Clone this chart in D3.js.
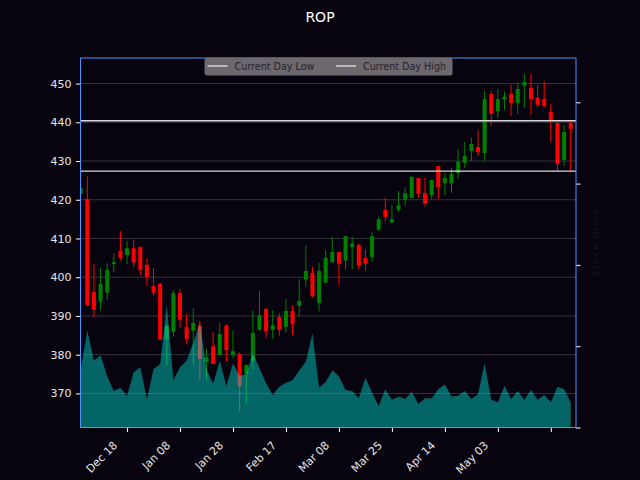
<html>
<script src='https://d3js.org/d3.v7.min.js'></script>
<style>
body { margin:0; background:#07040f; }
text { font-family: "DejaVu Sans", sans-serif; }
</style>
<body>
<svg width=640 height=480></svg>
<script>
// candles
var openP  = [421.5,420.2,396.2,393.7,396.0,403.4,406.8,405.7,407.5,407.8,403.2,397.7,398.3,383.9,385.9,395.9,387.1,386.2,387.5,378.1,
              382.2,379.9,387.5,379.9,380.2,375.1,378.4,386.4,391.8,386.4,389.7,387.2,391.3,392.6,399.4,401.1,393.4,398.6,403.9,406.5,
              404.3,407.8,408.3,405.0,405.2,412.3,417.4,414.1,417.4,420.0,420.5,425.6,421.7,421.2,428.7,424.3,424.2,426.9,429.5,432.6,
              433.6,432.1,447.3,442.9,445.8,447.3,445.0,449.4,448.9,446.3,446.0,442.7,439.8,430.3,439.8];
var highP  = [423.3,426.0,403.4,402.4,403.6,406.2,411.9,409.4,409.6,408.0,404.9,402.4,398.5,387.6,396.7,396.9,390.5,392.0,388.7,381.5,
              385.8,388.3,387.8,386.4,380.6,377.5,391.3,396.5,392.1,391.5,390.7,394.4,392.8,399.5,408.3,402.7,403.8,407.0,410.4,406.6,
              410.7,410.4,408.7,407.2,411.6,415.6,420.5,418.6,422.3,423.3,426.0,425.7,425.6,425.2,428.8,426.9,428.2,433.0,434.9,436.1,
              438.0,448.1,448.1,448.6,447.9,449.7,450.2,452.5,452.5,449.7,450.7,444.7,439.9,439.3,440.4];
var lowP   = [421.3,392.5,389.5,391.4,394.1,401.2,404.3,403.3,402.7,400.6,397.8,395.3,383.9,377.1,384.6,387.0,382.8,377.4,373.4,373.6,
              377.6,379.9,378.2,379.0,365.5,367.4,376.2,386.2,384.4,384.1,384.9,385.7,385.1,389.8,397.6,394.8,391.2,398.4,403.7,398.0,
              402.0,402.0,402.0,401.7,404.0,412.0,414.5,414.1,416.9,418.5,420.4,420.6,418.2,420.2,420.2,421.2,421.8,425.4,428.2,430.0,
              431.3,430.0,439.1,441.1,443.2,441.6,442.2,443.7,441.9,444.0,444.0,434.9,427.4,428.7,427.4];
var closeP = [423.1,392.8,391.6,398.2,401.9,403.9,405.0,407.5,403.8,401.9,400.1,396.0,383.9,387.4,395.9,389.0,384.1,388.2,378.9,379.3,
              377.6,385.3,381.2,380.9,371.9,377.3,385.6,390.1,386.1,387.6,386.4,391.3,387.9,393.9,401.6,395.1,401.6,405.0,406.5,403.5,
              410.6,408.7,403.0,403.5,410.6,415.0,415.6,415.0,418.5,421.7,425.9,421.5,419.0,425.1,423.3,425.6,426.7,429.8,431.3,434.4,
              432.3,446.0,442.2,446.0,446.6,445.0,448.6,450.4,446.0,444.5,444.2,440.6,429.2,437.5,438.3];
// volume (millions)
var volume = [0.71,1.19,0.82,0.89,0.63,0.45,0.49,0.39,0.68,0.74,0.35,0.72,0.78,1.51,0.58,0.74,0.82,1.04,1.29,0.71,
              0.54,0.82,0.51,0.79,0.63,0.66,0.91,0.73,0.54,0.40,0.50,0.55,0.58,0.70,0.81,1.16,0.49,0.56,0.70,0.63,
              0.46,0.45,0.36,0.61,0.43,0.26,0.47,0.34,0.38,0.35,0.44,0.29,0.36,0.36,0.47,0.53,0.38,0.39,0.45,0.35,
              0.41,0.79,0.34,0.31,0.51,0.35,0.45,0.34,0.46,0.34,0.40,0.31,0.50,0.47,0.31];
var tickIndex  = [7,15,23,31,39,47,55,63,71];
var tickLabels = ["Dec 18","Jan 08","Jan 28","Feb 17","Mar 08","Mar 25","Apr 14","May 03",""];
var priceTicks = [370,380,390,400,410,420,430,440,450];
var volTicks   = [0,1,2,3,4];

var plot = ({left: 80.5, top: 58, right: 576, bottom: 427.5});
var mysvg = d3.select("svg");

var x = d3.scaleLinear().domain([-0.03, 74.8]).range([plot.left, plot.right]);
var y = d3.scaleLinear().domain([361.2, 456.6]).range([plot.bottom, plot.top]);
var yv = d3.scaleLinear().domain([0, 4.545]).range([plot.bottom, plot.top]);

mysvg.append("rect").attr("width", 640).attr("height", 480).attr("fill", "#07040f");

mysvg.append("clipPath").attr("id", "clip")
	.append("rect")
	.attr("x", plot.left).attr("y", plot.top)
	.attr("width", plot.right - plot.left).attr("height", plot.bottom - plot.top);

// grid
mysvg.append("g").selectAll("line")
	.data(priceTicks).enter().append("line")
	.attr("x1", plot.left).attr("x2", plot.right)
	.attr("y1", d => y(d)).attr("y2", d => y(d))
	.attr("stroke", "#37333c").attr("stroke-width", 1);

// candles
var candles = mysvg.append("g").attr("clip-path", "url(#clip)")
	.selectAll("g").data(openP).enter().append("g");
candles.append("line")
	.attr("x1", (d, i) => x(i)).attr("x2", (d, i) => x(i))
	.attr("y1", (d, i) => y(highP[i])).attr("y2", (d, i) => y(lowP[i]))
	.attr("stroke", (d, i) => closeP[i] >= d ? "#008000" : "#ff0000")
	.attr("stroke-width", 1);
candles.append("rect")
	.attr("x", (d, i) => x(i) - 2)
	.attr("width", 4)
	.attr("y", (d, i) => y(Math.max(d, closeP[i])))
	.attr("height", (d, i) => Math.max(1, Math.abs(y(d) - y(closeP[i]))))
	.attr("fill", (d, i) => closeP[i] >= d ? "#008000" : "#ff0000");

// volume on the twin axis
var volArea = d3.area()
	.x((d, i) => x(i))
	.y0(yv(0))
	.y1(d => yv(d));
mysvg.append("path")
	.datum(volume)
	.attr("clip-path", "url(#clip)")
	.attr("d", volArea)
	.attr("fill", "rgb(0,235,225)")
	.attr("fill-opacity", 0.42);

// current day low / high
var last = openP.length - 1;
[lowP[last], highP[last]].forEach(function(v) {
	mysvg.append("line")
		.attr("x1", plot.left).attr("x2", plot.right)
		.attr("y1", y(v)).attr("y2", y(v))
		.attr("stroke", "#d8d8dc").attr("stroke-width", 1.3);
});

// axes
var yAxis = mysvg.append("g")
	.attr("transform", "translate(" + plot.left + ",0)")
	.call(d3.axisLeft(y).tickValues(priceTicks).tickSize(4.5).tickPadding(4.5).tickFormat(d3.format("d")));
var xAxis = mysvg.append("g")
	.attr("transform", "translate(0," + plot.bottom + ")")
	.call(d3.axisBottom(x).tickValues(tickIndex).tickSize(4.5).tickFormat((d, k) => tickLabels[k]));
xAxis.selectAll("text")
	.attr("y", 0).attr("dy", 0)
	.attr("text-anchor", "end")
	.attr("transform", "translate(-9.5,18.5) rotate(-45)");
var rAxis = mysvg.append("g")
	.attr("transform", "translate(" + plot.right + ",0)")
	.call(d3.axisRight(yv).tickValues(volTicks).tickSize(4.5).tickFormat(""));
[yAxis, xAxis, rAxis].forEach(function(a) {
	a.select(".domain").remove();
	a.selectAll("line").attr("stroke", "#ffffff");
	a.selectAll("text").attr("fill", "#e6e6e6").style("font-size", "11px").style("font-family", "DejaVu Sans");
});

// spines
mysvg.append("rect")
	.attr("x", plot.left).attr("y", plot.top)
	.attr("width", plot.right - plot.left).attr("height", plot.bottom - plot.top)
	.attr("fill", "none").attr("stroke", "#4f94ff").attr("stroke-width", 1);

mysvg.append("text")
	.attr("transform", "translate(599,243) rotate(-90)")
	.attr("text-anchor", "middle")
	.style("font-size", "11px").style("font-weight", "bold")
	.attr("fill", "#110f15")
	.text("Stock price");

// legend
var legend = mysvg.append("g").attr("transform", "translate(204.5,57.5)");
legend.append("rect")
	.attr("width", 248).attr("height", 18).attr("rx", 2.5)
	.attr("fill", "#6d676e");
var items = ["Current Day Low", "Current Day High"];
var itemX = [3, 131.5];
items.forEach(function(t, k) {
	legend.append("line")
		.attr("x1", itemX[k]).attr("x2", itemX[k] + 20)
		.attr("y1", 8.5).attr("y2", 8.5)
		.attr("stroke", "#f0f0f0").attr("stroke-width", 1.2);
	legend.append("text")
		.attr("x", itemX[k] + 27).attr("y", 12)
		.style("font-size", "9.6px")
		.attr("fill", "#26242a")
		.text(t);
});

mysvg.append("text")
	.attr("x", 320).attr("y", 22)
	.attr("text-anchor", "middle")
	.style("font-size", "14px")
	.attr("fill", "#ffffff")
	.text("ROP");
</script>
</body>
</html>
